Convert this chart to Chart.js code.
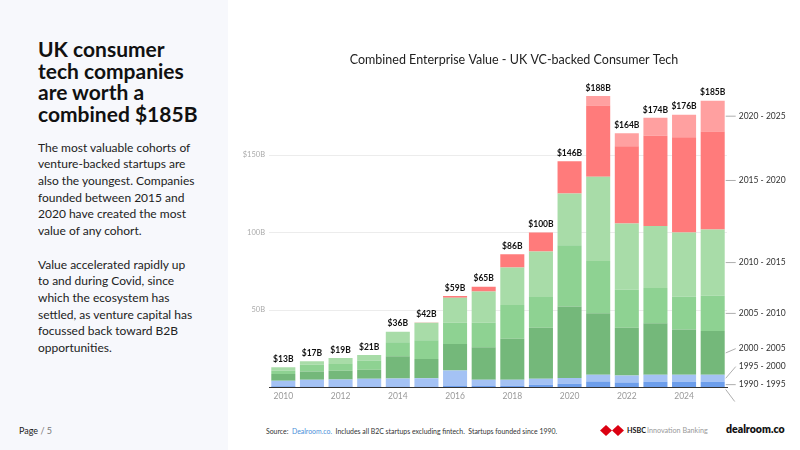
<!DOCTYPE html>
<html lang="en">
<head>
    <meta charset="UTF-8">
    <title>UK Consumer Tech - Combined Enterprise Value</title>
    <script src="https://cdn.jsdelivr.net/npm/chart.js"></script>
    <style>
        body {
            margin: 0;
            width: 800px;
            height: 450px;
            position: relative;
            overflow: hidden;
            background: #fff;
            font-family: "Source Sans Pro", Lato, sans-serif;
            color: #111;
        }
        .side {
            position: absolute;
            left: 0; top: 0;
            width: 228px; height: 450px;
            background: #f7f8fc;
        }
        .side h1 {
            position: absolute;
            left: 38px; top: 38px;
            margin: 0;
            font-size: 21px;
            line-height: 21.7px;
            font-weight: 700;
            white-space: nowrap;
        }
        .side p {
            position: absolute;
            left: 38px;
            margin: 0;
            font-size: 12px;
            line-height: 16.7px;
            color: #222;
            white-space: nowrap;
        }
        .page {
            position: absolute;
            left: 19px; top: 425px;
            font-size: 9px;
            color: #222;
        }
        .page span { color: #777; }
        .chart-box {
            position: absolute;
            left: 240px; top: 40px;
            width: 560px; height: 370px;
        }
        .source {
            position: absolute;
            left: 266px; top: 427px;
            font-size: 6.9px;
            color: #333;
        }
        .source a { color: #4a8fd9; text-decoration: none; }
        .hsbc {
            position: absolute;
            left: 600px; top: 425px;
            font-size: 7.2px;
            color: #999;
            display: flex;
            align-items: center;
        }
        .hsbc b { color: #111; margin: 0 1px 0 3px; }
        .dealroom {
            position: absolute;
            left: 726px; top: 423px;
            font-size: 10.5px;
            font-weight: 800;
            color: #111;
        }
    </style>
</head>
<body>
    <div class="side">
        <h1>UK consumer<br>tech companies<br>are worth a<br>combined $185B</h1>
        <p style="top:139.5px">The most valuable cohorts of<br>venture-backed startups are<br>also the youngest. Companies<br>founded between 2015 and<br>2020 have created the most<br>value of any cohort.</p>
        <p style="top:256.5px">Value accelerated rapidly up<br>to and during Covid, since<br>which the ecosystem has<br>settled, as venture capital has<br>focussed back toward B2B<br>opportunities.</p>
    </div>
    <div class="page">Page <span>/ 5</span></div>

    <div class="chart-box">
        <canvas id="evChart"></canvas>
    </div>

    <div class="source">Source:&nbsp; <a>Dealroom.co.</a>&nbsp; Includes all B2C startups excluding fintech.&nbsp; Startups founded since 1990.</div>
    <div class="hsbc">
        <svg width="24" height="11" viewBox="0 0 100 46">
            <polygon points="0,23 25,0 25,46" fill="#db0011"/>
            <polygon points="100,23 75,0 75,46" fill="#db0011"/>
            <polygon points="25,0 50,23 25,46" fill="#db0011"/>
            <polygon points="75,0 50,23 75,46" fill="#db0011"/>
        </svg>
        <b>HSBC</b> Innovation Banking
    </div>
    <div class="dealroom">dealroom.co</div>

    <script>
        const years = ['2010', '2011', '2012', '2013', '2014', '2015', '2016', '2017',
                       '2018', '2019', '2020', '2021', '2022', '2023', '2024', '2025'];

        // enterprise value ($B) by founding cohort
        const cohorts = ['1990 - 1995', '1995 - 2000', '2000 - 2005', '2005 - 2010',
                         '2010 - 2015', '2015 - 2020', '2020 - 2025'];
        const c1990 = [0.8, 0.6, 0.7, 0.7, 0.7, 0.7, 0.9, 1.0, 1.2, 1.7, 2.4, 3.9, 3.3, 3.7, 3.7, 3.7];
        const c1995 = [3.5, 4.4, 4.5, 4.9, 5.1, 5.3, 10.1, 4.0, 3.8, 3.9, 3.7, 4.3, 4.5, 4.5, 4.5, 4.5];
        const c2000 = [4.4, 5.4, 5.6, 5.9, 14.3, 12.4, 17.1, 21.0, 26.4, 32.9, 46.2, 39.7, 30.8, 33.2, 29.3, 28.2];
        const c2005 = [2.1, 4.3, 4.4, 6.0, 9.1, 12.1, 13.7, 15.8, 21.8, 19.9, 39.5, 33.7, 24.5, 22.8, 21.1, 22.8];
        const c2010 = [2.2, 2.3, 3.8, 3.5, 6.8, 11.2, 16.1, 20.1, 24.3, 29.3, 33.3, 54.3, 42.7, 40.0, 41.4, 42.8];
        const c2015 = [0, 0, 0, 0, 0, 0.3, 1.1, 3.1, 8.5, 12.3, 20.9, 46.1, 49.8, 58.3, 61.5, 63.1];
        const c2020 = [0, 0, 0, 0, 0, 0, 0, 0, 0, 0, 0, 6.0, 8.4, 11.5, 14.5, 19.9];

        const yTicks = [50, 100, 150];
        const yMax = 200;

        const colors = ['#6d9eeb', '#a4c2f4', '#74b87a', '#8ed292', '#a8dca8', '#ff7b7b', '#ffa0a0'];
        const series = [c1990, c1995, c2000, c2005, c2010, c2015, c2020];
        const FONT = '"Source Sans Pro", Lato, sans-serif';

        // chart heading, centred a little right of the plot like the original
        const heading = {
            id: 'heading',
            afterDraw(chart) {
                const ctx = chart.ctx;
                ctx.save();
                ctx.font = '12.5px ' + FONT;
                ctx.fillStyle = '#222';
                ctx.textAlign = 'center';
                ctx.textBaseline = 'middle';
                ctx.fillText('Combined Enterprise Value - UK VC-backed Consumer Tech', 274, 20);
                ctx.restore();
            }
        };

        // totals above each bar
        const totalLabels = {
            id: 'totalLabels',
            afterDatasetsDraw(chart) {
                const ctx = chart.ctx;
                const yScale = chart.scales.y;
                const xScale = chart.scales.x;
                ctx.save();
                ctx.font = 'bold 8.5px ' + FONT;
                ctx.fillStyle = '#111';
                ctx.textAlign = 'center';
                ctx.textBaseline = 'middle';
                years.forEach((yr, i) => {
                    const total = series.reduce((s, arr) => s + arr[i], 0);
                    ctx.fillText('$' + Math.round(total) + 'B', xScale.getPixelForValue(i), yScale.getPixelForValue(total) - 8);
                });
                ctx.restore();
            }
        };

        // cohort names beside the last bar, with leader lines
        const cohortLabels = {
            id: 'cohortLabels',
            afterDatasetsDraw(chart) {
                const ctx = chart.ctx;
                const yScale = chart.scales.y;
                const last = years.length - 1;
                const meta = chart.getDatasetMeta(0).data[last];
                const barRight = meta.x + meta.width / 2;
                let base = 0;
                let prevY = Infinity;
                const spots = [];
                series.forEach((arr, k) => {
                    const v = arr[last];
                    const mid = yScale.getPixelForValue(base + v / 2);
                    base += v;
                    const ly = Math.min(mid, prevY - 18);
                    prevY = ly;
                    spots.push({ mid, ly, text: cohorts[k] });
                });
                ctx.save();
                ctx.strokeStyle = '#999';
                ctx.lineWidth = 0.8;
                ctx.font = '8.5px ' + FONT;
                ctx.fillStyle = '#333';
                ctx.textBaseline = 'middle';
                spots.forEach(s => {
                    ctx.beginPath();
                    ctx.moveTo(barRight + 1, s.mid);
                    ctx.lineTo(barRight + 11, s.ly);
                    ctx.stroke();
                    ctx.fillText(s.text, barRight + 14, s.ly);
                });
                // stray leader line below the axis, as in the original
                const zero = yScale.getPixelForValue(0);
                ctx.beginPath();
                ctx.moveTo(barRight + 1, zero + 2);
                ctx.lineTo(barRight + 10, zero + 14);
                ctx.stroke();
                ctx.restore();
            }
        };

        new Chart(document.getElementById('evChart'), {
            type: 'bar',
            data: {
                labels: years,
                datasets: series.map((arr, k) => ({
                    label: cohorts[k],
                    data: arr,
                    backgroundColor: colors[k],
                    borderWidth: 0,
                    barPercentage: 0.84,
                    categoryPercentage: 1.0
                }))
            },
            options: {
                responsive: true,
                maintainAspectRatio: false,
                animation: false,
                layout: { padding: { left: 0, right: 73, top: 37.5, bottom: 2.5 } },
                plugins: {
                    legend: { display: false },
                    tooltip: { enabled: false },
                    title: { display: false }
                },
                scales: {
                    x: {
                        stacked: true,
                        grid: { display: false, drawTicks: false },
                        border: { display: true, color: '#333', width: 1 },
                        ticks: {
                            color: '#999',
                            font: { family: FONT, size: 8.5 },
                            padding: 4,
                            autoSkip: false,
                            maxRotation: 0,
                            callback: (v, i) => (i % 2 === 0 ? years[i] : '')
                        },
                        afterFit: s => { s.height = 20; }
                    },
                    y: {
                        stacked: true,
                        min: 0,
                        max: yMax,
                        border: { display: false },
                        grid: {
                            color: ctx => (yTicks.includes(ctx.tick.value) ? '#ececec' : 'rgba(0,0,0,0)'),
                            drawTicks: false
                        },
                        afterBuildTicks: s => { s.ticks = [0].concat(yTicks, [yMax]).map(v => ({ value: v })); },
                        ticks: {
                            color: '#aaa',
                            font: { family: FONT, size: 7.5 },
                            padding: 4,
                            callback: v => (v === 150 ? '$150B' : yTicks.includes(v) ? v + 'B' : '')
                        },
                        afterFit: s => { s.width = 29; }
                    }
                }
            },
            plugins: [heading, totalLabels, cohortLabels]
        });
    </script>
</body>
</html>
